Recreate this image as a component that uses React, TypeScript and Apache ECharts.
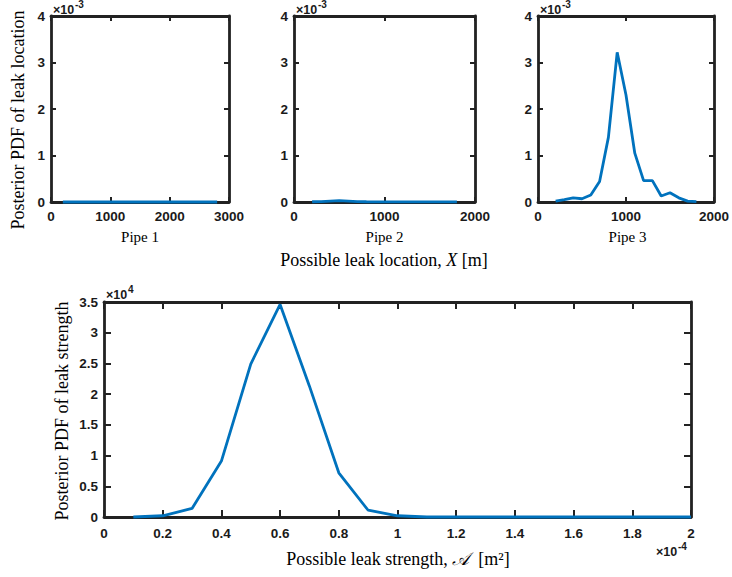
import React, { useEffect, useRef } from "react";
import * as echarts from "echarts";

// Top row: posterior PDF of leak location for each pipe (x in metres, y in 1/m)
const pipe1X = [200, 300, 400, 500, 600, 700, 800, 900, 1000, 1100, 1200, 1300, 1400, 1500, 1600, 1700, 1800, 1900, 2000, 2100, 2200, 2300, 2400, 2500, 2600, 2700, 2800];
const pipe1Y = [0, 0, 0, 0, 0, 0, 0, 0, 0, 0, 0, 0, 0, 0, 0, 0, 0, 0, 0, 0, 0, 0, 0, 0, 0, 0, 0];

const pipe2X = [200, 300, 400, 500, 600, 700, 800, 900, 1000, 1100, 1200, 1300, 1400, 1500, 1600, 1700, 1800];
const pipe2Y = [0.000005, 0.00001, 0.00002, 0.00003, 0.00002, 0.00001, 0.000005, 0.000003, 0.000002, 0.000002, 0.000002, 0.000001, 0.000001, 0.000001, 0.000001, 0.000001, 0.000001];

const pipe3X = [200, 300, 400, 500, 600, 700, 800, 900, 1000, 1100, 1200, 1300, 1400, 1500, 1600, 1700, 1800];
const pipe3Y = [0.00002, 0.00005, 0.00009, 0.00007, 0.00015, 0.00044, 0.00139, 0.00322, 0.0023, 0.00105, 0.00046, 0.00046, 0.00013, 0.0002, 0.00009, 0.00002, 0.00001];

// Bottom: posterior PDF of leak strength (x in m^2, y in 1/m^2)
const strengthX = [0.1e-4, 0.2e-4, 0.3e-4, 0.4e-4, 0.5e-4, 0.6e-4, 0.7e-4, 0.8e-4, 0.9e-4, 1.0e-4, 1.1e-4, 1.2e-4, 1.3e-4, 1.4e-4, 1.5e-4, 1.6e-4, 1.7e-4, 1.8e-4, 1.9e-4, 2.0e-4];
const strengthY = [0, 200, 1400, 9100, 24900, 34600, 21300, 7200, 1100, 200, 0, 0, 0, 0, 0, 0, 0, 0, 0, 0];

// Axis ranges / ticks
const pipeXMax = [3000, 2000, 2000];
const pipeXInterval = 1000;
const pipeYMax = 0.004;
const pipeYInterval = 0.001;
const strengthXMax = 2e-4;
const strengthXInterval = 0.2e-4;
const strengthYMax = 35000;
const strengthYInterval = 5000;

const pipeNames = ["Pipe 1", "Pipe 2", "Pipe 3"];

const BLUE = "#0072BD";
const AXIS = "#222222";
const SANS = "'Liberation Sans', Arial, sans-serif";
const SERIF = "'Liberation Serif', 'Times New Roman', serif";

export default function App() {
  const ref = useRef<HTMLDivElement>(null);

  useEffect(() => {
    if (!ref.current) return;
    const chart = echarts.init(ref.current, undefined, { renderer: "svg" });

    const grids = [
      { left: 51, top: 16, width: 178, height: 186 },
      { left: 294, top: 16, width: 181, height: 186 },
      { left: 538, top: 16, width: 179, height: 186 },
      { left: 104, top: 302, width: 587, height: 215 },
    ];

    const tickLabel = {
      fontFamily: SANS,
      fontWeight: "bold" as const,
      fontSize: 13.5,
      color: "#1a1a1a",
    };

    const xAxes: any[] = [];
    const yAxes: any[] = [];

    const mkX = (gi: number, max: number, interval: number, pos: string, showLabel: boolean, tickLen: number, margin: number, fmt: (v: number) => string) => ({
      type: "value",
      gridIndex: gi,
      position: pos,
      min: 0,
      max,
      interval,
      splitLine: { show: false },
      axisLine: { show: true, onZero: false, lineStyle: { color: AXIS, width: 2.8 } },
      axisTick: { show: true, inside: true, length: tickLen, lineStyle: { color: AXIS, width: 2 } },
      axisLabel: { show: showLabel, margin, formatter: fmt, ...tickLabel },
    });
    const mkY = (gi: number, max: number, interval: number, pos: string, showLabel: boolean, tickLen: number, fmt: (v: number) => string) => ({
      type: "value",
      gridIndex: gi,
      position: pos,
      min: 0,
      max,
      interval,
      splitLine: { show: false },
      axisLine: { show: true, onZero: false, lineStyle: { color: AXIS, width: 2.8 } },
      axisTick: { show: true, inside: true, length: tickLen, lineStyle: { color: AXIS, width: 2 } },
      axisLabel: { show: showLabel, margin: 6, formatter: fmt, ...tickLabel },
    });

    const fmtInt = (v: number) => String(Math.round(v));
    const fmtE3 = (v: number) => String(+(v * 1e3).toFixed(2));
    const fmtE4x = (v: number) => String(+(v * 1e4).toFixed(2));
    const fmtE4y = (v: number) => String(+(v / 1e4).toFixed(2));

    for (let i = 0; i < 3; i++) {
      xAxes.push(mkX(i, pipeXMax[i], pipeXInterval, "bottom", true, 5, 7, fmtInt));
      xAxes.push(mkX(i, pipeXMax[i], pipeXInterval, "top", false, 5, 7, fmtInt));
      yAxes.push(mkY(i, pipeYMax, pipeYInterval, "left", true, 5, fmtE3));
      yAxes.push(mkY(i, pipeYMax, pipeYInterval, "right", false, 5, fmtE3));
    }
    xAxes.push(mkX(3, strengthXMax, strengthXInterval, "bottom", true, 7, 9, fmtE4x));
    xAxes.push(mkX(3, strengthXMax, strengthXInterval, "top", false, 7, 9, fmtE4x));
    yAxes.push(mkY(3, strengthYMax, strengthYInterval, "left", true, 7, fmtE4y));
    yAxes.push(mkY(3, strengthYMax, strengthYInterval, "right", false, 7, fmtE4y));

    const pipeData = [
      pipe1X.map((x, i) => [x, pipe1Y[i]]),
      pipe2X.map((x, i) => [x, pipe2Y[i]]),
      pipe3X.map((x, i) => [x, pipe3Y[i]]),
    ];

    const series: any[] = pipeData.map((d, i) => ({
      type: "line",
      xAxisIndex: i * 2,
      yAxisIndex: i * 2,
      data: d,
      showSymbol: false,
      clip: false,
      lineStyle: { color: BLUE, width: 2.8 },
      itemStyle: { color: BLUE },
      z: 5,
    }));
    series.push({
      type: "line",
      xAxisIndex: 6,
      yAxisIndex: 6,
      data: strengthX.map((x, i) => [x, strengthY[i]]),
      showSymbol: false,
      clip: false,
      lineStyle: { color: BLUE, width: 2.8 },
      itemStyle: { color: BLUE },
      z: 5,
    });

    const expText = (x: number, y: number, exp: string) => [
      {
        type: "text",
        x,
        y,
        style: { text: "×10", fontFamily: SANS, fontWeight: "bold", fontSize: 12.5, fill: "#1a1a1a", textAlign: "left", textVerticalAlign: "middle" },
      },
      {
        type: "text",
        x: x + 22,
        y: y - 6,
        style: { text: exp, fontFamily: SANS, fontWeight: "bold", fontSize: 10, fill: "#1a1a1a", textAlign: "left", textVerticalAlign: "middle" },
      },
    ];

    const graphic: any[] = [];
    for (let i = 0; i < 3; i++) {
      const g = grids[i];
      graphic.push({
        type: "text",
        x: g.left + g.width / 2,
        y: 237,
        style: { text: pipeNames[i], fontFamily: SERIF, fontSize: 15, fill: "#000", textAlign: "center", textVerticalAlign: "middle" },
      });
      graphic.push(...expText(g.left + 2, 10, "-3"));
    }
    graphic.push(...expText(grids[3].left + 2, 295, "4"));
    graphic.push(...expText(656, 552, "-4"));

    graphic.push({
      type: "text",
      x: 384,
      y: 260,
      style: {
        text: "{a|Possible leak location, }{i|X}{a| [m]}",
        textAlign: "center",
        textVerticalAlign: "middle",
        rich: {
          a: { fontFamily: SERIF, fontSize: 18, fill: "#000" },
          i: { fontFamily: SERIF, fontSize: 18, fontStyle: "italic", fill: "#000" },
        },
      },
    });
    graphic.push({
      type: "text",
      x: 398,
      y: 559,
      style: {
        text: "{a|Possible leak strength, }{i|𝒜}{a|  [m²]}",
        textAlign: "center",
        textVerticalAlign: "middle",
        rich: {
          a: { fontFamily: SERIF, fontSize: 18, fill: "#000" },
          i: { fontFamily: SERIF, fontSize: 18, fontStyle: "italic", fill: "#000" },
        },
      },
    });
    graphic.push({
      type: "text",
      x: 18,
      y: 120,
      rotation: Math.PI / 2,
      style: { text: "Posterior PDF of leak location", fontFamily: SERIF, fontSize: 18, fill: "#000", textAlign: "center", textVerticalAlign: "middle" },
    });
    graphic.push({
      type: "text",
      x: 62,
      y: 411,
      rotation: Math.PI / 2,
      style: { text: "Posterior PDF of leak strength", fontFamily: SERIF, fontSize: 18, fill: "#000", textAlign: "center", textVerticalAlign: "middle" },
    });

    chart.setOption({
      animation: false,
      backgroundColor: "#ffffff",
      grid: grids.map((g) => ({ ...g, containLabel: false })),
      xAxis: xAxes,
      yAxis: yAxes,
      series,
      graphic,
    });

    return () => chart.dispose();
  }, []);

  return (
    <div
      ref={ref}
      style={{ position: "fixed", left: 0, top: 0, width: 732, height: 577 }}
    />
  );
}
